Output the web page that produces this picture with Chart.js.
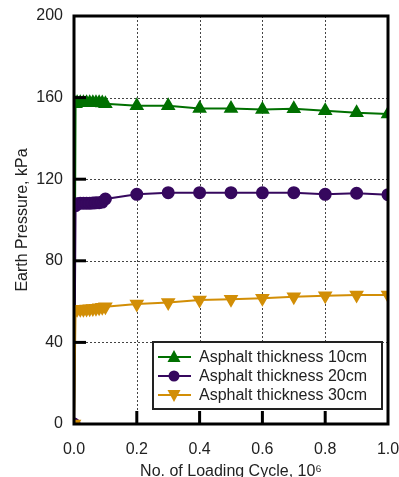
<!DOCTYPE html>
<html lang="en">
<head>
<meta charset="utf-8">
<script src="https://cdn.jsdelivr.net/npm/chart.js"></script>
<style>
  html, body { margin: 0; padding: 0; background: #fff; }
  #wrap { width: 399px; height: 477px; }
</style>
</head>
<body>
<div id="wrap"><canvas id="pressureChart" width="399" height="477"></canvas></div>
<script>
// loading cycles (x 10^6)
const cycles = [0, 0.005, 0.01, 0.02, 0.03, 0.04, 0.05, 0.06, 0.07, 0.08, 0.09, 0.1,
                0.2, 0.3, 0.4, 0.5, 0.6, 0.7, 0.8, 0.9, 1.0];
const asphalt10 = [0, 157, 157.5, 157.5, 157.5, 157.5, 157.5, 157.5, 157.5, 157.5, 157.3, 157,
                   156, 156, 154.7, 154.7, 154.2, 154.5, 153.6, 152.6, 152];
const asphalt20 = [0, 107, 108, 108.2, 108.2, 108.2, 108.2, 108.3, 108.4, 108.5, 108.8, 110.3,
                   112.6, 113.4, 113.4, 113.4, 113.3, 113.4, 112.6, 113.1, 112.4];
const asphalt30 = [0, 56, 56.2, 56.2, 56.3, 56.4, 56.5, 56.6, 56.8, 57, 57.2, 57.5,
                   58.8, 59.6, 60.8, 61.1, 61.6, 62.4, 62.9, 63.2, 63.2];
const seriesNames = ['Asphalt thickness 10cm', 'Asphalt thickness 20cm', 'Asphalt thickness 30cm'];
const xTicks = [0, 0.2, 0.4, 0.6, 0.8, 1.0];
const yTicks = [0, 40, 80, 120, 160, 200];

const GREEN = '#007000', PURPLE = '#36085e', ORANGE = '#d28e06';
const FONT = "'Liberation Sans', Arial, sans-serif";

function pts(ys) { return cycles.map((c, i) => ({ x: c, y: ys[i] })); }

// gridlines, frame and inward ticks
const framePlugin = {
  id: 'frame',
  beforeDatasetsDraw(chart) {
    const { ctx, chartArea: a, scales: { x, y } } = chart;
    ctx.save();
    ctx.strokeStyle = '#444';
    ctx.lineWidth = 1;
    ctx.setLineDash([2, 2]);
    yTicks.slice(1, -1).forEach(v => {
      const py = Math.round(y.getPixelForValue(v)) + 0.5;
      ctx.beginPath(); ctx.moveTo(a.left + 12, py); ctx.lineTo(a.right, py); ctx.stroke();
    });
    xTicks.slice(1, -1).forEach(v => {
      const px = Math.round(x.getPixelForValue(v)) + 0.5;
      ctx.beginPath(); ctx.moveTo(px, a.top); ctx.lineTo(px, a.bottom - 12); ctx.stroke();
    });
    ctx.restore();
  },
  afterDatasetsDraw(chart) {
    const { ctx, chartArea: a, scales: { x, y } } = chart;
    ctx.save();
    ctx.strokeStyle = '#000';
    ctx.lineWidth = 3;
    ctx.strokeRect(a.left, a.top, a.right - a.left, a.bottom - a.top);
    yTicks.slice(1, -1).forEach(v => {
      const py = y.getPixelForValue(v);
      ctx.beginPath(); ctx.moveTo(a.left, py); ctx.lineTo(a.left + 12, py); ctx.stroke();
    });
    xTicks.slice(1, -1).forEach(v => {
      const px = x.getPixelForValue(v);
      ctx.beginPath(); ctx.moveTo(px, a.bottom); ctx.lineTo(px, a.bottom - 13); ctx.stroke();
    });
    ctx.restore();
  }
};

// legend box inside the plot
function marker(ctx, style, cx, cy, color) {
  ctx.fillStyle = color;
  ctx.beginPath();
  if (style === 'circle') {
    ctx.arc(cx, cy, 5.5, 0, Math.PI * 2);
  } else {
    const s = style === 'up' ? 1 : -1;
    ctx.moveTo(cx, cy - 7 * s);
    ctx.lineTo(cx + 6.5, cy + 5 * s);
    ctx.lineTo(cx - 6.5, cy + 5 * s);
    ctx.closePath();
  }
  ctx.fill();
}

const legendPlugin = {
  id: 'boxLegend',
  afterDraw(chart) {
    const ctx = chart.ctx;
    const bx = 153, by = 342, bw = 229, bh = 67;
    ctx.save();
    ctx.fillStyle = '#fff';
    ctx.fillRect(bx, by, bw, bh);
    ctx.strokeStyle = '#222';
    ctx.lineWidth = 2;
    ctx.strokeRect(bx, by, bw, bh);
    const styles = ['up', 'circle', 'down'];
    chart.data.datasets.forEach((ds, i) => {
      const cy = by + 15 + i * 19;
      ctx.strokeStyle = ds.borderColor;
      ctx.lineWidth = 2;
      ctx.beginPath(); ctx.moveTo(bx + 5, cy); ctx.lineTo(bx + 38, cy); ctx.stroke();
      marker(ctx, styles[i], bx + 21, cy, ds.borderColor);
      ctx.fillStyle = '#222';
      ctx.font = '16px ' + FONT;
      ctx.textBaseline = 'middle';
      ctx.fillText(ds.label, bx + 46, cy + 1);
    });
    ctx.restore();
  }
};

new Chart(document.getElementById('pressureChart'), {
  type: 'line',
  data: {
    datasets: [
      { label: seriesNames[0], data: pts(asphalt10), borderColor: GREEN, backgroundColor: GREEN,
        pointStyle: 'triangle', pointRadius: 6.5, borderWidth: 2, order: 3 },
      { label: seriesNames[1], data: pts(asphalt20), borderColor: PURPLE, backgroundColor: PURPLE,
        pointStyle: 'circle', pointRadius: 5.5, borderWidth: 2, order: 2 },
      { label: seriesNames[2], data: pts(asphalt30), borderColor: ORANGE, backgroundColor: ORANGE,
        pointStyle: 'triangle', pointRotation: 180, pointRadius: 6.5, borderWidth: 2, order: 1 }
    ]
  },
  options: {
    responsive: false,
    animation: false,
    devicePixelRatio: 1,
    layout: { padding: { top: 16, right: 11, left: 0, bottom: 0 } },
    plugins: { legend: { display: false }, tooltip: { enabled: false } },
    elements: { point: { borderWidth: 0 }, line: { tension: 0 } },
    scales: {
      x: {
        type: 'linear', min: 0, max: 1,
        afterBuildTicks: s => { s.ticks = xTicks.map(v => ({ value: v })); },
        afterFit: s => { s.height = 53; s.paddingLeft = 0; s.paddingRight = 0; },
        grid: { display: false }, border: { display: false },
        ticks: { color: '#222', font: { size: 16, family: FONT }, padding: 8,
                 maxRotation: 0, callback: v => Number(v).toFixed(1) },
        title: { display: true, text: 'No. of Loading Cycle, 10\u2076', color: '#222',
                 font: { size: 16, family: FONT }, padding: { top: 0, bottom: -4 } }
      },
      y: {
        type: 'linear', min: 0, max: 200,
        afterBuildTicks: s => { s.ticks = yTicks.map(v => ({ value: v })); },
        afterFit: s => { s.width = 74; s.paddingTop = 0; s.paddingBottom = 0; },
        grid: { display: false }, border: { display: false },
        ticks: { color: '#222', font: { size: 16, family: FONT }, padding: 3 },
        title: { display: true, text: 'Earth Pressure, kPa', color: '#222',
                 font: { size: 16, family: FONT }, padding: { top: 13, bottom: 0 } }
      }
    }
  },
  plugins: [framePlugin, legendPlugin]
});
</script>
</body>
</html>
